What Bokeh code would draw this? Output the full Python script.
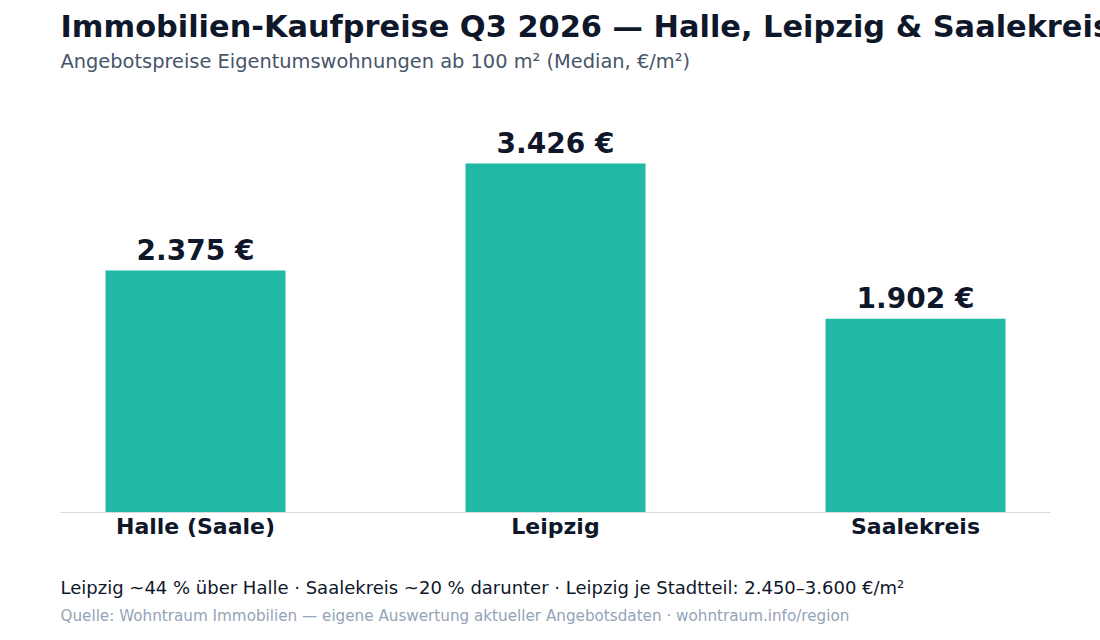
from bokeh.plotting import figure
from bokeh.models import Range1d, FixedTicker, Title, ColumnDataSource, Label
from bokeh.layouts import column
from bokeh.embed import file_html
from bokeh.resources import INLINE
from bokeh.core.properties import value

# ---- data ----
regions = ["Halle (Saale)", "Leipzig", "Saalekreis"]
prices = [2375, 3426, 1902]
price_labels = [f"{v:,}".replace(",", ".") + " €" for v in prices]

title_text = "Immobilien-Kaufpreise Q3 2026 — Halle, Leipzig & Saalekreis"
subtitle_text = "Angebotspreise Eigentumswohnungen ab 100 m² (Median, €/m²)"
note_text = "Leipzig ~44 % über Halle · Saalekreis ~20 % darunter · Leipzig je Stadtteil: 2.450–3.600 €/m²"
source_text = "Quelle: Wohntraum Immobilien — eigene Auswertung aktueller Angebotsdaten · wohntraum.info/region"

FONT = "DejaVu Sans"
DARK = "#0f172a"

xs = list(range(len(regions)))
src = ColumnDataSource(dict(x=xs, price=prices, label=price_labels))

MAIN_H = 548
FOOT_H = 640 - MAIN_H
LEFT, RIGHT = 60, 50

p = figure(width=1100, height=MAIN_H, output_backend="svg", toolbar_location=None,
           title=None,
           x_range=Range1d(-0.375, len(regions) - 0.625),
           y_range=Range1d(0, max(prices) * 1.2635),
           min_border_left=LEFT, min_border_right=RIGHT, min_border_top=0, min_border_bottom=36)

p.vbar(x="x", top="price", bottom=0, width=0.5, source=src,
       fill_color="#21b8a6", line_color=None)

p.text(x="x", y="price", text="label", source=src,
       text_align="center", text_baseline="alphabetic", y_offset=-20,
       text_font=value(FONT), text_font_style="bold", text_font_size="28px",
       text_color=DARK)

p.yaxis.visible = False
p.xgrid.visible = False
p.ygrid.visible = False
p.outline_line_color = None

ax = p.xaxis[0]
ax.ticker = FixedTicker(ticks=xs)
ax.major_label_overrides = {i: r for i, r in zip(xs, regions)}
ax.major_tick_line_color = None
ax.minor_tick_line_color = None
ax.major_tick_out = 0
ax.major_tick_in = 0
ax.axis_line_color = "#d5d9e0"
ax.axis_line_width = 1
ax.major_label_standoff = 1
ax.major_label_text_font = FONT
ax.major_label_text_font_style = "bold"
ax.major_label_text_font_size = "22px"
ax.major_label_text_color = DARK

sub = Title(text=subtitle_text, text_font=FONT, text_font_style="normal",
            text_font_size="19.4px", text_color="#475569", align="left", standoff=-3)
ttl = Title(text=title_text, text_font=FONT, text_font_style="bold",
            text_font_size="30.4px", text_color=DARK, align="left", standoff=12)
p.add_layout(sub, "above")
p.add_layout(ttl, "above")

# ---- footer panel (pixel coordinates inside its frame, y downward) ----
FW = 1100 - LEFT - RIGHT
f = figure(width=1100, height=FOOT_H, output_backend="svg", toolbar_location=None,
           x_range=Range1d(0, FW), y_range=Range1d(FOOT_H, 0),
           x_axis_type=None, y_axis_type=None,
           min_border_left=LEFT, min_border_right=RIGHT, min_border_top=0, min_border_bottom=0)
f.grid.visible = False
f.outline_line_color = None

f.add_layout(Label(x=0, y=38.5, text=note_text,
                   text_font=FONT, text_font_size="18px", text_color=DARK,
                   text_align="left", text_baseline="alphabetic"))
f.add_layout(Label(x=0, y=67, text=source_text,
                   text_font=FONT, text_font_size="15.2px", text_color="#94a3b8",
                   text_align="left", text_baseline="alphabetic"))

layout = column(p, f, spacing=0)
open("out.html", "w").write(file_html(layout, INLINE))
